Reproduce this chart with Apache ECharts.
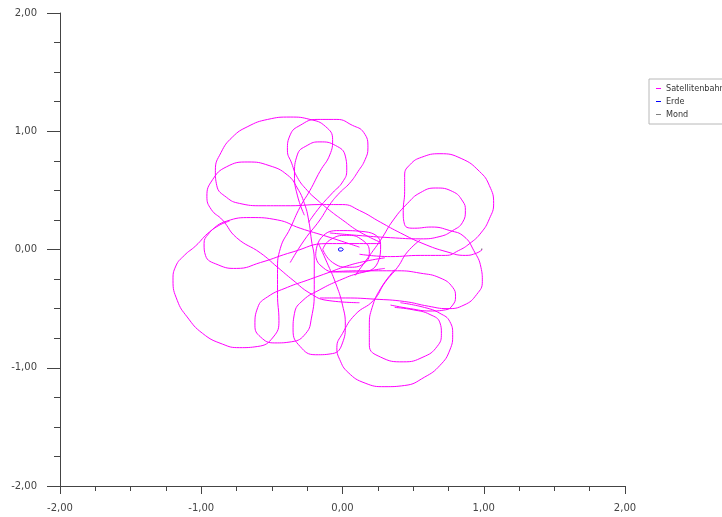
<!DOCTYPE html>
<html><head><meta charset="utf-8">
<script src="https://cdn.jsdelivr.net/npm/echarts@6/dist/echarts.min.js"></script>
<style>html,body{margin:0;padding:0;background:#fff}#c{width:722px;height:517px}</style>
</head><body><div id="c"></div>
<script>
// Axis ticks
const xTickValues = [-2, -1, 0, 1, 2];
const yTickValues = [-2, -1, 0, 1, 2];
const seriesNames = ['Satellitenbahn', 'Erde', 'Mond'];

// Satellite orbit strokes (x, y)
const orbitUpperRightBig = [[0.12,-0.04],[0.34,-0.06],[0.55,-0.05],[0.73,-0.05],[0.82,-0.01],[0.90,0.05],[0.98,0.14],[1.04,0.26],[1.07,0.39],[1.04,0.54],[0.97,0.66],[0.84,0.77],[0.69,0.81],[0.56,0.78],[0.48,0.72],[0.44,0.63],[0.44,0.49],[0.43,0.33],[0.44,0.21],[0.51,0.18],[0.63,0.19],[0.76,0.16],[0.86,0.11],[0.93,-0.01],[0.98,-0.15],[0.99,-0.27],[0.95,-0.38],[0.86,-0.47],[0.74,-0.50],[0.61,-0.48],[0.44,-0.44],[0.23,-0.42],[0.02,-0.41],[-0.16,-0.41]];
const orbitUpperRightInner = [[-0.09,0.14],[0.10,0.12],[0.34,0.10],[0.55,0.09],[0.69,0.11],[0.78,0.16],[0.85,0.23],[0.87,0.33],[0.85,0.41],[0.78,0.49],[0.66,0.52],[0.55,0.48],[0.46,0.39],[0.36,0.25],[0.27,0.08],[0.18,-0.07],[0.09,-0.22]];
const orbitUpperLeftBig = [[0.99,0.00],[0.95,-0.03],[0.87,-0.05],[0.74,-0.02],[0.57,0.05],[0.41,0.14],[0.27,0.23],[0.12,0.33],[0.00,0.38],[-0.16,0.38],[-0.37,0.37],[-0.57,0.37],[-0.73,0.39],[-0.82,0.44],[-0.89,0.54],[-0.90,0.67],[-0.86,0.82],[-0.78,0.95],[-0.67,1.04],[-0.53,1.10],[-0.37,1.12],[-0.23,1.10],[-0.12,1.04],[-0.07,0.93],[-0.09,0.80],[-0.16,0.66],[-0.23,0.50],[-0.30,0.36],[-0.37,0.18],[-0.44,0.01],[-0.46,-0.17],[-0.46,-0.38],[-0.45,-0.60],[-0.49,-0.74],[-0.60,-0.82],[-0.73,-0.83],[-0.85,-0.80],[-0.99,-0.71],[-1.10,-0.57],[-1.17,-0.43],[-1.20,-0.26],[-1.18,-0.14],[-1.12,-0.05],[-1.04,0.03],[-0.94,0.15],[-0.82,0.24],[-0.65,0.27],[-0.46,0.25],[-0.30,0.18],[-0.11,0.11],[0.12,0.02]];
const orbitLeftSmall = [[0.27,0.05],[0.12,0.05],[-0.11,0.05],[-0.35,-0.02],[-0.58,-0.11],[-0.75,-0.16],[-0.88,-0.13],[-0.97,-0.05],[-0.98,0.05],[-0.95,0.13],[-0.88,0.20],[-0.80,0.24]];
const orbitLeftUpper = [[0.12,-0.45],[-0.11,-0.43],[-0.23,-0.37],[-0.35,-0.26],[-0.46,-0.15],[-0.58,-0.03],[-0.75,0.10],[-0.85,0.25],[-0.93,0.34],[-0.96,0.45],[-0.92,0.59],[-0.82,0.70],[-0.67,0.74],[-0.52,0.71],[-0.39,0.63],[-0.32,0.52],[-0.27,0.39],[-0.24,0.25],[-0.22,0.08],[-0.20,-0.09],[-0.20,-0.34],[-0.22,-0.58],[-0.26,-0.71],[-0.36,-0.78],[-0.48,-0.79],[-0.58,-0.74],[-0.62,-0.64],[-0.60,-0.49],[-0.53,-0.40],[-0.39,-0.32],[-0.25,-0.26],[-0.11,-0.20],[0.03,-0.14],[0.16,-0.10],[0.30,-0.07]];
const orbitLowerMiddle = [[0.30,-0.16],[0.12,-0.20],[-0.02,-0.26],[-0.16,-0.34],[-0.28,-0.43],[-0.34,-0.54],[-0.35,-0.68],[-0.30,-0.82],[-0.19,-0.89],[-0.07,-0.88],[0.00,-0.79],[0.02,-0.64],[0.00,-0.47],[-0.05,-0.28],[-0.11,-0.11],[-0.17,0.05]];
const orbitTopBig = [[-0.37,-0.11],[-0.27,0.08],[-0.16,0.25],[-0.09,0.38],[-0.02,0.48],[0.05,0.56],[0.11,0.66],[0.16,0.76],[0.18,0.86],[0.15,0.99],[0.07,1.05],[-0.04,1.10],[-0.18,1.10],[-0.30,1.05],[-0.37,0.97],[-0.39,0.84],[-0.36,0.73],[-0.32,0.61],[-0.25,0.50],[-0.18,0.42],[-0.09,0.33],[0.00,0.25],[0.12,0.15],[0.27,0.06]];
const orbitTopSmall = [[-0.27,0.29],[-0.32,0.46],[-0.34,0.63],[-0.32,0.80],[-0.25,0.88],[-0.16,0.91],[-0.05,0.88],[0.02,0.79],[0.03,0.67],[0.00,0.57],[-0.07,0.48],[-0.16,0.36],[-0.24,0.23]];
const orbitCoreInner = [[-0.14,0.00],[-0.09,0.08],[0.03,0.12],[0.14,0.08],[0.19,-0.02],[0.16,-0.11],[0.05,-0.15],[-0.07,-0.11],[-0.14,0.00]];
const orbitCoreOuter = [[-0.19,-0.05],[-0.15,0.10],[-0.02,0.16],[0.16,0.15],[0.27,0.04],[0.25,-0.11],[0.12,-0.19],[-0.05,-0.19],[-0.16,-0.13],[-0.19,-0.05]];
const orbitRightInner = [[-0.09,-0.19],[0.12,-0.18],[0.39,-0.18],[0.55,-0.20],[0.69,-0.24],[0.78,-0.32],[0.80,-0.40],[0.78,-0.47],[0.73,-0.51],[0.62,-0.52],[0.48,-0.50],[0.34,-0.47]];
const orbitBottomBig = [[0.41,-0.45],[0.58,-0.49],[0.69,-0.54],[0.76,-0.61],[0.78,-0.72],[0.76,-0.85],[0.69,-0.98],[0.58,-1.08],[0.44,-1.15],[0.30,-1.16],[0.16,-1.13],[0.04,-1.04],[-0.02,-0.93],[-0.04,-0.83],[0.00,-0.71],[0.09,-0.55],[0.22,-0.43],[0.30,-0.28],[0.39,-0.15],[0.46,-0.02],[0.55,0.08]];
const orbitBottomInner = [[0.37,-0.17],[0.27,-0.33],[0.21,-0.49],[0.19,-0.64],[0.19,-0.81],[0.27,-0.91],[0.43,-0.95],[0.57,-0.91],[0.67,-0.82],[0.70,-0.71],[0.69,-0.62],[0.62,-0.55],[0.50,-0.51],[0.37,-0.49]];

const satelliteStrokes = [orbitUpperRightBig, orbitUpperRightInner, orbitUpperLeftBig, orbitLeftSmall, orbitLeftUpper, orbitLowerMiddle, orbitTopBig, orbitTopSmall, orbitCoreInner, orbitCoreOuter, orbitRightInner, orbitBottomBig, orbitBottomInner];

// Earth wobble and Moon
const erde = [[0.005,0.0],[-0.002,0.012],[-0.015,0.014],[-0.027,0.008],[-0.028,-0.006],[-0.018,-0.013],[-0.004,-0.012],[0.005,0.0]];
const mond = [[0.982,0.004],[0.988,0.0],[0.99,-0.002]];

const fmt = v => v.toFixed(2).replace('.', ',');
const FONT = 'DejaVu Sans';
const axisColor = '#444';

const series = satelliteStrokes.map(s => ({
  type: 'line', name: seriesNames[0], data: s, smooth: 0.5, symbol: 'none',
  lineStyle: { color: '#ff00ff', width: 1 }, itemStyle: { color: '#ff00ff' }, z: 2
}));
series.push({ type: 'line', name: seriesNames[1], data: erde, smooth: 0.5, symbol: 'none',
  lineStyle: { color: '#0000ff', width: 1 }, itemStyle: { color: '#0000ff' }, z: 3 });
series.push({ type: 'line', name: seriesNames[2], data: mond, symbol: 'none',
  lineStyle: { color: '#808080', width: 1.5 }, itemStyle: { color: '#808080' }, z: 3 });

const chart = echarts.init(document.getElementById('c'), null, { renderer: 'canvas' });
chart.setOption({
  animation: false,
  backgroundColor: '#fff',
  grid: { left: 60, right: 97, top: 13, bottom: 31, containLabel: false },
  legend: {
    data: seriesNames, orient: 'vertical', left: 649, top: 79, icon: 'rect',
    padding: [4, 6, 4, 7], itemGap: 2, itemWidth: 5, itemHeight: 1,
    borderColor: '#b8b8b8', borderWidth: 1, backgroundColor: '#fff',
    textStyle: { fontFamily: 'DejaVu Sans Condensed, DejaVu Sans', fontSize: 9, color: '#333', lineHeight: 11 },
    selectedMode: false
  },
  xAxis: {
    type: 'value', min: -2, max: 2, interval: 1,
    axisLine: { onZero: false, lineStyle: { color: axisColor, width: 1 } },
    axisTick: { show: true, length: 8, lineStyle: { color: axisColor } },
    minorTick: { show: true, splitNumber: 4, length: 5, lineStyle: { color: axisColor } },
    splitLine: { show: false }, minorSplitLine: { show: false },
    axisLabel: { formatter: fmt, fontFamily: FONT, fontSize: 10, color: '#444', margin: 17 }
  },
  yAxis: {
    type: 'value', min: -2, max: 2, interval: 1,
    axisLine: { show: true, onZero: false, lineStyle: { color: axisColor, width: 1 } },
    axisTick: { show: true, length: 13, lineStyle: { color: axisColor } },
    minorTick: { show: true, splitNumber: 4, length: 6, lineStyle: { color: axisColor } },
    splitLine: { show: false }, minorSplitLine: { show: false },
    axisLabel: { formatter: fmt, fontFamily: FONT, fontSize: 10, color: '#444', margin: 23 }
  },
  series: series
});
</script>
</body></html>
